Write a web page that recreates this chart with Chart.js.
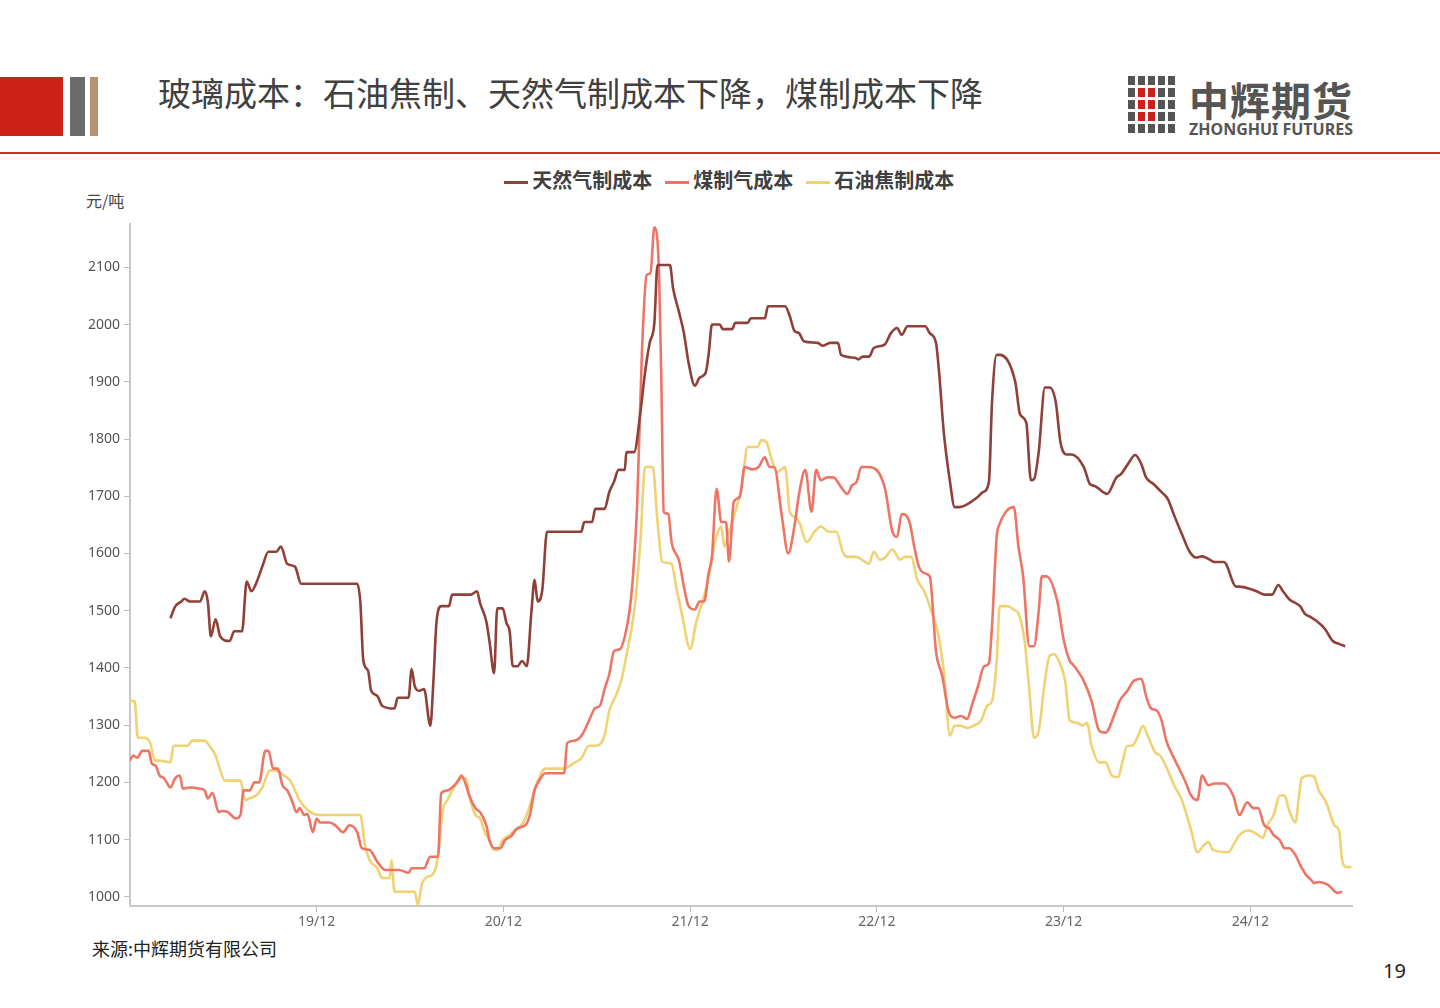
<!DOCTYPE html>
<html><head><meta charset="utf-8">
<script src="https://cdn.jsdelivr.net/npm/chart.js@4/dist/chart.umd.min.js"></script>
<style>
body{margin:0;width:1440px;height:1008px;background:#fff;position:relative;font-family:"Noto Sans CJK SC","Noto Sans",sans-serif;overflow:hidden}
.abs{position:absolute}
</style></head><body>
<div class="abs" style="left:0;top:77px;width:63px;height:59px;background:#cc2118"></div>
<div class="abs" style="left:70px;top:77px;width:15px;height:59px;background:#6b6b6b"></div>
<div class="abs" style="left:90px;top:77px;width:8px;height:59px;background:#b8916e"></div>
<div class="abs" style="left:158px;top:68px;font-size:33px;color:#404040;white-space:nowrap">玻璃成本：石油焦制、天然气制成本下降，煤制成本下降</div>
<div class="abs" style="left:1128px;top:76px;width:50px;height:58px">
<canvas id="logo" width="50" height="58"></canvas></div>
<div class="abs" style="left:1189px;top:70px;font-size:40px;font-weight:bold;color:#555;letter-spacing:1px">中辉期货</div>
<div class="abs" style="left:1189px;top:118px;font-size:16px;font-weight:bold;color:#555;font-family:'Noto Sans',sans-serif">ZHONGHUI FUTURES</div>
<div class="abs" style="left:0;top:152px;width:1440px;height:2px;background:#c0302a"></div>
<div class="abs" style="left:0;top:165px;width:1440px;text-align:center;font-size:20px;font-weight:bold;color:#404040;padding-left:18px;box-sizing:border-box">
<span style="display:inline-block;width:24px;height:3px;background:#8e4039;vertical-align:middle"></span> 天然气制成本
<span style="display:inline-block;width:24px;height:3px;background:#ee7565;vertical-align:middle;margin-left:8px"></span> 煤制气成本
<span style="display:inline-block;width:24px;height:3px;background:#f0d173;vertical-align:middle;margin-left:8px"></span> 石油焦制成本</div>
<div class="abs" style="left:86px;top:188px;font-size:16px;color:#444">元/吨</div>
<div class="abs" style="left:92px;top:935px;font-size:18px;color:#222">来源:中辉期货有限公司</div>
<div class="abs" style="left:1383px;top:957px;font-size:20px;color:#222;font-family:'Noto Sans',sans-serif">19</div>
<div class="abs" style="left:60px;top:212px;width:1293px;height:734px"><canvas id="c"></canvas></div>
<script>
(function(){const g=document.getElementById('logo').getContext('2d');
for(let r=0;r<5;r++)for(let c=0;c<5;c++){const red=(r>=1&&r<=3&&(c===1||c===2));g.fillStyle=red?'#cc2118':'#555';g.fillRect(c*10,r*12,7,9);}})();

const tickPos=[12,24,36,48,60,72];
const tickLabels=['19/12','20/12','21/12','22/12','23/12','24/12'];
const yTicks=[1000,1100,1200,1300,1400,1500,1600,1700,1800,1900,2000,2100];

const gasX=[2.6,2.9,3.3,3.5,3.85,4.5,4.8,5,5.2,5.5,5.8,6.4,6.7,7.2,7.5,7.8,8.2,8.5,8.9,9.4,9.7,10.1,10.6,11,14.6,14.8,15,15.3,15.5,15.9,16.2,17,17.2,17.9,18.1,18.3,18.6,18.9,19.3,19.5,19.7,20,20.5,20.7,21.9,22.3,22.5,22.9,23.1,23.4,23.6,23.95,24.2,24.4,24.6,24.9,25.2,25.5,25.8,26,26.2,26.5,26.8,29,29.2,29.7,29.9,30.5,30.8,31.1,31.4,31.8,31.9,32.4,32.8,33.1,33.4,33.7,33.9,34.7,34.9,35.3,35.6,35.9,36.3,36.6,37,37.2,37.4,37.9,38.1,38.7,38.9,39.7,39.9,40.8,41,42.1,42.4,42.7,43,43.3,44.2,44.5,45,45.5,45.7,46.6,46.8,47.1,47.5,47.8,48.5,48.9,49.3,49.6,49.97,51.1,51.4,51.8,52,52.3,52.7,53,53.3,54.5,54.8,55.2,55.4,55.7,55.9,56.9,57.2,57.6,57.9,58.1,58.4,58.8,59.1,59.5,59.8,60.2,60.5,61.3,61.7,62,62.8,63.4,63.7,64.2,64.6,65,65.3,65.8,66.3,66.7,67.1,67.6,68.1,68.5,68.9,69.4,69.7,70.3,71.1,71.3,72.1,72.4,72.9,73.4,73.8,74.1,74.5,75.2,75.5,75.8,76.3,76.8,77.3,77.7,78.1,78.5];
const gasY=[1487,1507,1516,1521,1516,1516,1534,1516,1455,1485,1455,1447,1464,1464,1551,1534,1554,1577,1603,1603,1612,1582,1577,1547,1547,1516,1412,1395,1360,1351,1334,1329,1348,1348,1398,1368,1360,1363,1299,1377,1481,1508,1508,1528,1528,1534,1513,1481,1447,1391,1504,1504,1478,1464,1403,1403,1412,1403,1499,1554,1516,1537,1638,1638,1655,1655,1678,1678,1707,1725,1746,1746,1777,1777,1846,1916,1968,2003,2104,2104,2064,2020,1985,1933,1893,1907,1916,1951,2000,2000,1992,1992,2003,2003,2011,2011,2032,2032,2015,1989,1985,1971,1968,1963,1968,1968,1947,1942,1939,1944,1944,1959,1965,1985,1994,1982,1997,1997,1985,1968,1916,1812,1725,1681,1681,1699,1707,1725,1864,1947,1947,1899,1843,1829,1728,1730,1777,1890,1890,1864,1794,1773,1773,1751,1721,1718,1704,1733,1739,1759,1772,1756,1733,1721,1707,1695,1667,1634,1603,1593,1595,1589,1585,1585,1542,1542,1537,1534,1528,1528,1545,1534,1520,1508,1495,1490,1481,1468,1447,1442,1438];

const coalX=[0,0.2,0.45,0.8,1.2,1.4,1.65,1.9,2.2,2.6,2.9,3.2,3.4,3.85,4.5,4.8,5,5.3,5.7,5.9,6.3,6.8,7.1,7.3,7.7,8,8.3,8.7,8.9,9.2,9.5,9.8,10.1,10.4,10.7,10.9,11.2,11.4,11.75,12,12.2,12.8,13.2,13.7,14.1,14.6,14.9,15.4,15.9,16.4,17.3,17.9,18.1,18.9,19.3,19.8,20,20.4,20.7,21.1,21.3,21.6,21.8,22.2,22.5,22.9,23.1,23.4,23.8,24.1,24.5,24.9,25.4,25.7,26,26.3,26.7,27.9,28.1,28.6,29.1,29.5,29.9,30.2,30.5,30.8,31.1,31.5,31.8,32.1,32.3,32.6,32.9,33.2,33.45,33.7,34,34.15,34.3,34.45,34.6,34.8,35.3,35.6,35.9,36.3,36.6,36.9,37.2,37.4,37.7,38,38.3,38.5,38.8,39.2,39.5,40,40.4,40.8,41.1,41.4,41.9,42.3,42.7,43,43.4,43.8,44.1,44.4,44.8,45.2,45.7,46.1,46.4,46.7,47,47.5,48.5,49,49.3,49.6,50.1,50.4,50.7,51.1,51.4,51.8,52.2,52.6,53,53.4,53.8,54.1,54.5,54.9,55.2,55.4,55.7,55.9,56.3,56.8,57.1,57.4,57.8,58.1,58.4,58.6,58.9,59.6,60,60.4,60.6,61.3,61.8,62.3,62.7,63.3,63.6,64.1,64.5,65,65.3,65.6,66,66.3,66.6,67.1,67.8,68.2,68.6,68.9,69.3,69.7,70.3,70.9,71.3,71.8,72.2,72.5,72.9,73.2,73.5,73.9,74.2,74.5,74.9,75.2,75.6,75.9,76.1,76.4,77,77.6,77.9,78.5];
const coalY=[1238,1247,1243,1255,1255,1233,1229,1212,1207,1191,1207,1212,1189,1191,1189,1186,1172,1182,1148,1150,1148,1137,1143,1186,1186,1200,1200,1255,1255,1224,1224,1195,1186,1169,1148,1155,1143,1145,1113,1137,1130,1130,1125,1113,1125,1113,1085,1082,1061,1047,1047,1042,1050,1050,1070,1070,1181,1186,1191,1203,1212,1195,1177,1155,1148,1125,1099,1085,1085,1099,1106,1120,1125,1143,1186,1203,1216,1216,1269,1273,1285,1308,1330,1334,1363,1389,1429,1433,1455,1499,1551,1690,1951,2086,2090,2170,2090,1899,1673,1670,1669,1621,1586,1542,1508,1502,1516,1516,1568,1594,1713,1655,1655,1586,1690,1699,1751,1747,1751,1768,1751,1751,1664,1600,1647,1704,1746,1673,1746,1728,1733,1733,1716,1704,1719,1725,1751,1751,1716,1638,1629,1669,1655,1612,1577,1565,1560,1429,1386,1325,1313,1316,1311,1334,1368,1403,1408,1473,1629,1652,1673,1681,1612,1560,1438,1438,1499,1560,1560,1516,1450,1412,1406,1377,1342,1290,1287,1321,1342,1360,1377,1381,1351,1330,1325,1308,1273,1242,1203,1177,1169,1212,1195,1198,1198,1177,1143,1165,1155,1155,1125,1120,1108,1099,1085,1085,1073,1056,1038,1030,1024,1026,1021,1007,1009];

const cokeX=[0,0.3,0.5,0.9,1.3,1.6,1.9,2.6,2.8,3.7,4,4.8,5.1,5.5,5.8,6.1,7.1,7.4,7.7,8.1,8.5,9,9.3,9.6,9.9,10.3,10.9,11.6,12.2,14.8,15.1,15.4,15.9,16.2,16.7,16.8,17,18.3,18.5,18.75,19.1,19.4,19.7,19.9,20.1,20.4,20.9,21.2,21.6,21.8,22.2,22.5,22.8,23.1,23.4,23.6,23.95,24.4,24.7,25,25.5,25.8,26.1,26.7,27.9,28.6,29,29.5,30,30.5,30.8,31.3,31.6,31.9,32.4,32.8,33.1,33.6,33.9,34.2,34.8,35.1,35.5,36,36.4,36.8,37.2,37.6,38,38.2,38.5,38.9,39.3,39.7,40.3,40.6,40.9,41.2,41.6,42.1,42.4,42.7,43,43.5,43.99,44.4,44.9,45.4,45.8,46.1,46.7,47.2,47.5,47.8,48.2,48.5,49,49.5,49.8,50.2,50.6,51.05,51.5,51.9,52.3,52.7,53,53.4,53.8,54.2,54.7,55.1,55.4,55.7,55.9,56.4,56.8,57.1,57.5,57.8,58.1,58.4,58.8,59.1,59.4,59.7,60.1,60.4,60.9,61.2,61.5,61.8,62.3,62.7,63.1,63.5,63.8,64.1,64.4,64.8,65.1,65.4,65.9,66.2,66.7,67.1,67.6,68.2,68.6,69,69.3,69.6,70.6,70.9,71.3,71.9,72.5,72.8,73.1,73.5,73.9,74.2,74.5,74.9,75.1,75.3,75.8,76.1,76.4,76.8,77.1,77.4,77.7,77.9,78.2,78.5];
const cokeY=[1342,1342,1278,1278,1269,1238,1238,1235,1264,1264,1273,1273,1264,1247,1221,1203,1203,1169,1172,1177,1191,1221,1221,1218,1212,1203,1169,1148,1143,1143,1090,1064,1050,1033,1033,1064,1009,1009,986,1021,1035,1038,1056,1099,1151,1169,1195,1207,1207,1177,1143,1137,1113,1099,1082,1082,1099,1108,1116,1120,1143,1169,1195,1224,1224,1235,1242,1264,1264,1282,1325,1356,1381,1421,1499,1620,1751,1751,1655,1586,1582,1542,1490,1433,1481,1516,1560,1620,1647,1612,1638,1673,1716,1786,1786,1798,1795,1768,1742,1751,1673,1664,1655,1620,1638,1647,1638,1638,1603,1594,1594,1586,1582,1603,1589,1592,1607,1589,1594,1594,1554,1534,1499,1464,1395,1282,1299,1299,1295,1299,1308,1334,1342,1412,1508,1508,1502,1495,1447,1360,1278,1290,1377,1421,1424,1412,1377,1308,1304,1299,1304,1264,1235,1235,1212,1209,1238,1264,1264,1282,1299,1282,1252,1247,1221,1195,1169,1116,1078,1090,1096,1082,1078,1090,1108,1116,1108,1103,1125,1143,1177,1177,1151,1130,1169,1207,1212,1210,1186,1169,1148,1125,1116,1064,1052,1052];

const pts=(xs,ys)=>xs.map((x,i)=>({x,y:ys[i]}));
const ds=(d,c)=>({data:d,borderColor:c,borderWidth:2.6,pointRadius:0,cubicInterpolationMode:'monotone',fill:false});
new Chart(document.getElementById('c'),{type:'line',
data:{datasets:[ds(pts(gasX,gasY),'#8e4039'),ds(pts(coalX,coalY),'#ee7565'),ds(pts(cokeX,cokeY),'#f0d173')]},
options:{responsive:true,maintainAspectRatio:false,animation:false,layout:{padding:{top:10,right:0}},
plugins:{legend:{display:false},tooltip:{enabled:false}},
scales:{
x:{type:'linear',min:0,max:78.6,afterBuildTicks:s=>{s.ticks=tickPos.map(v=>({value:v}));},
 afterFit:s=>{s.height=40;},
 ticks:{callback:(v)=>tickLabels[tickPos.indexOf(v)],color:'#666',font:{size:14,family:'Noto Sans'},maxRotation:0,padding:2},
 grid:{drawOnChartArea:false,tickLength:6,color:'#bbb'},border:{color:'#c8c8c8',width:2}},
y:{min:984,max:2175,afterBuildTicks:s=>{s.ticks=yTicks.map(v=>({value:v}));},
 afterFit:s=>{s.width=70;},
 ticks:{callback:v=>String(v),color:'#555',font:{size:14,family:'Noto Sans'},padding:4},
 grid:{drawOnChartArea:false,tickLength:6,color:'#bbb'},border:{color:'#c8c8c8',width:2}}}}});
</script></body></html>
